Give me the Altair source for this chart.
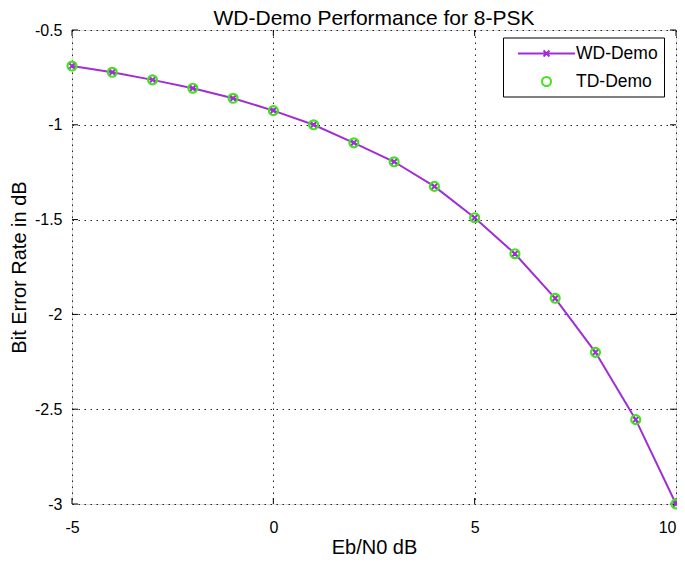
import altair as alt
import pandas as pd

# ---- data ----
ebn0 = [-5, -4, -3, -2, -1, 0, 1, 2, 3, 4, 5, 6, 7, 8, 9, 10]
wd_demo = [-0.69, -0.723, -0.763, -0.807, -0.86, -0.925, -1.0, -1.095, -1.195,
           -1.325, -1.49, -1.68, -1.915, -2.2, -2.555, -3.0]
td_demo = [-0.69, -0.723, -0.763, -0.807, -0.86, -0.925, -1.0, -1.095, -1.195,
           -1.325, -1.49, -1.68, -1.915, -2.2, -2.555, -3.0]
series_names = ["WD-Demo", "TD-Demo"]
x_ticks = [-5, 0, 5, 10]
y_ticks = [-3, -2.5, -2, -1.5, -1, -0.5]

purple = "#A02ED6"
green = "#44E21E"
FONT = "Liberation Sans"
W, H = 604, 474

df_wd = pd.DataFrame({"x": ebn0, "y": wd_demo, "series": "WD-Demo"})
df_td = pd.DataFrame({"x": ebn0, "y": td_demo, "series": "TD-Demo"})
df_leg = pd.DataFrame({"x": [-100, -100], "y": [0, 0], "series": series_names})
df_xt = pd.DataFrame({"x": x_ticks})
df_yt = pd.DataFrame({"y": y_ticks})

xs = alt.Scale(domain=[-5, 10], nice=False, zero=False)
ys = alt.Scale(domain=[-3, -0.5], nice=False, zero=False)

grid_kw = dict(grid=True, gridColor="#222222", gridDash=[1.5, 4.5], gridOpacity=1,
               gridWidth=1, ticks=False, domain=False, labelFont=FONT,
               labelFontSize=16, labelColor="black", titleFont=FONT,
               titleFontSize=20, titleFontWeight="normal", titleColor="black",
               labelExpr="'' + datum.value", labelFlush=False)

X = alt.X("x:Q", scale=xs,
          axis=alt.Axis(values=x_ticks, title="Eb/N0 dB", labelPadding=15,
                        titlePadding=2,
                        labelAlign={"condition": {"test": "datum.value === 10",
                                                  "value": "right"},
                                    "value": "center"},
                        **grid_kw))
Y = alt.Y("y:Q", scale=ys,
          axis=alt.Axis(values=y_ticks, title="Bit Error Rate in dB",
                        labelPadding=10, titlePadding=5, **grid_kw))

wd_x_path = "M-1,-1L1,1M-1,1L1,-1"
leg_wd_path = "M-3.17,0L3.17,0M-0.33,-0.33L0.33,0.33M-0.33,0.33L0.33,-0.33"
leg_td_path = "M0.5,0A0.5,0.5 0 1,1 -0.5,0A0.5,0.5 0 1,1 0.5,0Z"

legend = alt.Legend(orient="none", legendX=431, legendY=7.5, title=None,
                    strokeColor="black", fillColor="white", padding=6,
                    labelFont=FONT, labelFontSize=17.5, labelColor="black",
                    labelOffset=19.5, symbolSize=324, symbolStrokeWidth=2,
                    symbolOffset=27.5, rowPadding=9, cornerRadius=0,
                    labelExpr="datum.label + '  '")

line = alt.Chart(df_wd).mark_line(color=purple, strokeWidth=2).encode(x=X, y=Y)
wd_pts = alt.Chart(df_wd).mark_point(shape=wd_x_path, size=36, color=purple,
                                     strokeWidth=2, opacity=1).encode(x=X, y=Y)
td_pts = alt.Chart(df_td).mark_point(shape="circle", size=80, color=green,
                                     filled=False, strokeWidth=2.2,
                                     opacity=1).encode(x=X, y=Y)
leg = alt.Chart(df_leg).mark_point(clip=True, filled=False, strokeWidth=2,
                                   size=324, opacity=1).encode(
    x=X, y=Y,
    color=alt.Color("series:N",
                    scale=alt.Scale(domain=series_names, range=[purple, green]),
                    legend=legend),
    shape=alt.Shape("series:N",
                    scale=alt.Scale(domain=series_names,
                                    range=[leg_wd_path, leg_td_path]),
                    legend=legend),
)

# inward tick marks on all four sides (MATLAB box style)
tick_len = 6
rule_kw = dict(color="black", strokeWidth=1)
t_left = alt.Chart(df_yt).mark_rule(**rule_kw).encode(
    y=alt.Y("y:Q", scale=ys), x=alt.value(0), x2=alt.value(tick_len))
t_right = alt.Chart(df_yt).mark_rule(**rule_kw).encode(
    y=alt.Y("y:Q", scale=ys), x=alt.value(W - tick_len), x2=alt.value(W))
t_bottom = alt.Chart(df_xt).mark_rule(**rule_kw).encode(
    x=alt.X("x:Q", scale=xs), y=alt.value(H - tick_len), y2=alt.value(H))
t_top = alt.Chart(df_xt).mark_rule(**rule_kw).encode(
    x=alt.X("x:Q", scale=xs), y=alt.value(0), y2=alt.value(tick_len))

chart = alt.layer(leg, t_left, t_right, t_bottom, t_top, line, wd_pts, td_pts).properties(
    width=W, height=H,
    autosize=alt.AutoSizeParams(type="none"),
    padding={"left": 64, "top": 22, "right": 1, "bottom": 52},
    title=alt.Title("WD-Demo Performance for 8-PSK", font=FONT, fontSize=21,
                    fontWeight="normal", color="black", offset=-7),
).configure_view(stroke="black", strokeWidth=1.2).configure(background="white")

chart.save("out.html", embed_options={"renderer": "svg", "actions": False})
